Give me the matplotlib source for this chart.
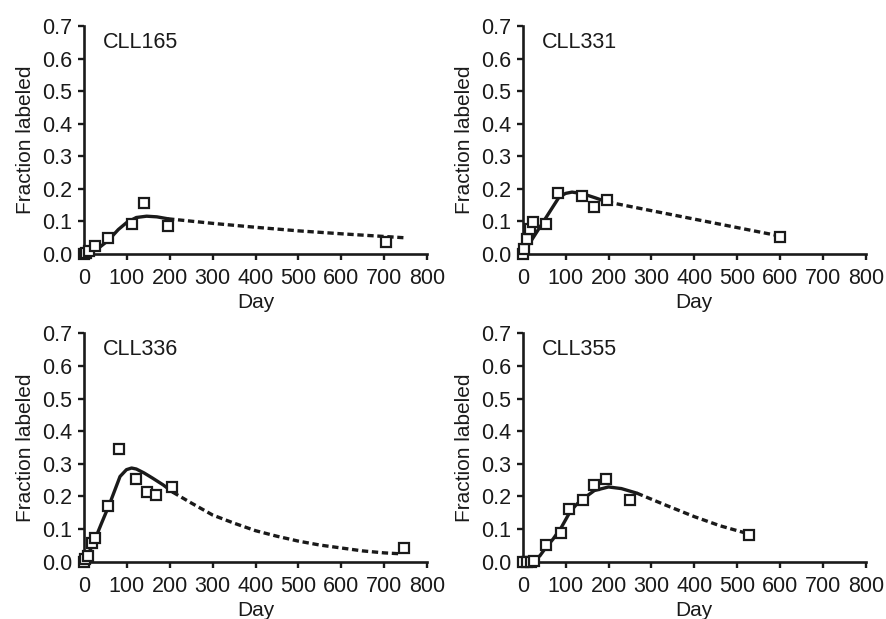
"""
Labeled-fraction kinetics for four CLL patients (2x2 panels).
"""

import matplotlib.pyplot as plt
import numpy as np

plt.rcParams["font.family"] = ["Liberation Sans", "DejaVu Sans"]

INK = "#1a1a1a"

panel_names = ["CLL165", "CLL331", "CLL336", "CLL355"]

# Measured points (open squares)
cll165_day = [0, 5, 12, 26, 55, 111, 140, 196, 705]
cll165_frac = [0.0, 0.004, 0.008, 0.024, 0.049, 0.092, 0.155, 0.087, 0.036]
cll331_day = [0, 2, 11, 17, 25, 54, 82, 138, 167, 196, 600]
cll331_frac = [0.0, 0.015, 0.046, 0.077, 0.098, 0.093, 0.188, 0.178, 0.144, 0.165, 0.053]
cll336_day = [0, 2, 10, 18, 26, 55, 82, 121, 148, 167, 205, 747]
cll336_frac = [0.0, 0.007, 0.018, 0.056, 0.073, 0.170, 0.344, 0.254, 0.213, 0.204, 0.228, 0.041]
cll355_day = [0, 9, 19, 26, 54, 89, 109, 140, 167, 195, 250, 527]
cll355_frac = [0.0, 0.0, 0.0, 0.002, 0.051, 0.089, 0.162, 0.188, 0.234, 0.252, 0.190, 0.082]

# Fitted curve, solid part
cll165_fit_day = [0, 15, 30, 57, 80, 100, 122, 146, 170, 196]
cll165_fit_frac = [0.0, 0.004, 0.014, 0.042, 0.075, 0.097, 0.112, 0.116, 0.114, 0.108]
cll331_fit_day = [0, 85, 100, 115, 140, 170, 196]
cll331_fit_frac = [0.0, 0.175, 0.186, 0.190, 0.185, 0.172, 0.160]
cll336_fit_day = [0, 20, 40, 60, 84, 99, 111, 122, 140, 160, 185, 207]
cll336_fit_frac = [0.0, 0.050, 0.115, 0.178, 0.261, 0.282, 0.287, 0.284, 0.272, 0.256, 0.235, 0.213]
cll355_fit_day = [0, 25, 40, 55, 70, 90, 110, 125, 140, 167, 200, 230, 266]
cll355_fit_frac = [0.0, 0.002, 0.018, 0.045, 0.068, 0.105, 0.152, 0.175, 0.192, 0.218, 0.229, 0.224, 0.210]

# Fitted curve, dashed extrapolation
cll165_ext_day = [196, 300, 400, 500, 600, 745]
cll165_ext_frac = [0.108, 0.094, 0.082, 0.071, 0.062, 0.050]
cll331_ext_day = [196, 400, 600]
cll331_ext_frac = [0.160, 0.107, 0.055]
cll336_ext_day = [207, 250, 300, 350, 400, 450, 500, 550, 600, 650, 700, 740]
cll336_ext_frac = [0.213, 0.180, 0.143, 0.118, 0.095, 0.078, 0.063, 0.051, 0.042, 0.033, 0.027, 0.024]
cll355_ext_day = [266, 330, 400, 460, 527]
cll355_ext_frac = [0.210, 0.175, 0.138, 0.110, 0.085]

x_ticks = [0, 100, 200, 300, 400, 500, 600, 700, 800]
y_ticks = [0.0, 0.1, 0.2, 0.3, 0.4, 0.5, 0.6, 0.7]

panels = [
    (cll165_day, cll165_frac, cll165_fit_day, cll165_fit_frac, cll165_ext_day, cll165_ext_frac),
    (cll331_day, cll331_frac, cll331_fit_day, cll331_fit_frac, cll331_ext_day, cll331_ext_frac),
    (cll336_day, cll336_frac, cll336_fit_day, cll336_fit_frac, cll336_ext_day, cll336_ext_frac),
    (cll355_day, cll355_frac, cll355_fit_day, cll355_fit_frac, cll355_ext_day, cll355_ext_frac),
]

# axes boxes in figure fractions: left, bottom, width, height
boxes = [
    [0.0947, 0.5897, 0.3867, 0.3683],
    [0.5893, 0.5897, 0.3870, 0.3683],
    [0.0947, 0.0926, 0.3867, 0.3690],
    [0.5893, 0.0926, 0.3870, 0.3690],
]

fig = plt.figure(figsize=(8.87, 6.19), dpi=100)

for name, box, (day, frac, fday, ffrac, eday, efrac) in zip(panel_names, boxes, panels):
    ax = fig.add_axes(box)
    ax.plot(fday, ffrac, color=INK, lw=2.4, solid_capstyle="round", zorder=2)
    ax.plot(eday, efrac, color=INK, lw=2.4, dashes=(1.9, 1.1), zorder=2)
    ax.plot(day, frac, ls="none", marker="s", ms=6.8, mfc="white", mec=INK,
            mew=1.6, clip_on=False, zorder=3)

    ax.set_xlim(0, 800)
    ax.set_ylim(0, 0.7)
    ax.set_xticks(x_ticks)
    ax.set_yticks(y_ticks)
    ax.set_yticklabels([f"{v:.1f}" for v in y_ticks])

    for side in ("top", "right"):
        ax.spines[side].set_visible(False)
    for side in ("left", "bottom"):
        ax.spines[side].set_linewidth(1.9)
        ax.spines[side].set_color(INK)

    ax.tick_params(direction="out", length=4.3, width=1.7, color=INK,
                   labelcolor=INK)
    ax.tick_params(axis="x", labelsize=15.5, pad=6)
    ax.tick_params(axis="y", labelsize=15.5, pad=4)

    ax.set_xlabel("Day", fontsize=15, color=INK, labelpad=3)
    ax.set_ylabel("Fraction labeled", fontsize=15, color=INK, labelpad=5)
    ax.text(45, 0.65, name, fontsize=15.5, color=INK, va="center", ha="left")

fig.savefig("out.png", dpi=100)
plt.close(fig)
